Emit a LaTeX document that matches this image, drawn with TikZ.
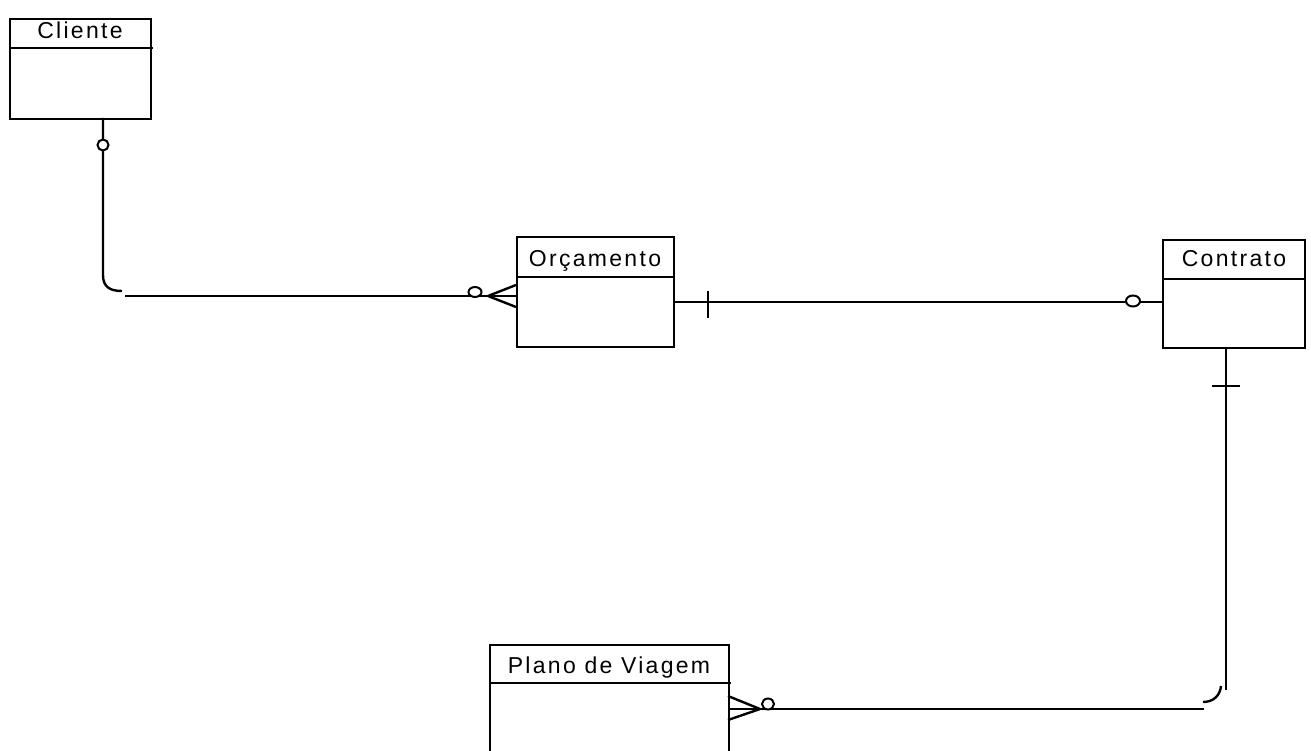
\documentclass[tikz,border=0pt]{standalone}
\usepackage{fontspec}
\usetikzlibrary{shapes.geometric}
\setmainfont{Liberation Sans}[LetterSpace=10]
\begin{document}
\begin{tikzpicture}[x=1pt,y=-1pt,line width=2.4pt,
  entity/.style={draw,rectangle,anchor=north west,inner sep=0pt},
  lbl/.style={font=\fontsize{23}{26}\selectfont,inner sep=0pt,anchor=base},
  ring/.style={draw,fill=white,line width=2pt,inner sep=0pt}]
\useasboundingbox (0,0) rectangle (1311,751);
% entities
\node[entity,minimum width=141,minimum height=100] (cli) at (9,18) {};
\draw (9,48) -- (153,48);
\node[lbl] (clit) at (80,39) {Cliente};
\node[entity,minimum width=157,minimum height=110] (orc) at (516,236) {};
\draw (516,277) -- (675,277);
\node[lbl] (orct) at (595,267) {Orçamento};
\node[entity,minimum width=142,minimum height=108] (con) at (1162,239) {};
\draw (1162,279) -- (1306,279);
\node[lbl] (cont) at (1234,267) {Contrato};
\node[entity,minimum width=239,minimum height=130] (pla) at (489,644) {};
\draw (489,683) -- (731,683);
\node[lbl] (plat) at (609,673) {Plano de Viagem};
% Cliente -- Orcamento
\coordinate (a1) at (103,118);
\coordinate (a2) at (103,275);
\coordinate (a3) at (122,291);
\coordinate (a4) at (125,296);
\coordinate (a5) at (488,296);
\draw (a1) -- (a2) .. controls (103,287) and (110,291) .. (a3);
\draw (a4) -- (516,296);
\node[ring,ellipse,minimum width=11pt,minimum height=11pt] (r1) at (103,145) {};
\node[ring,ellipse,minimum width=13pt,minimum height=10pt] (r2) at (475,292) {};
\draw (a5) -- (516,285) (a5) -- (516,307);
% Orcamento -- Contrato
\coordinate (b1) at (673,302);
\coordinate (b2) at (1162,302);
\draw (b1) -- (b2);
\draw (708,291) -- (708,318);
\node[ring,ellipse,minimum width=14pt,minimum height=11pt] (r3) at (1133,301) {};
% Contrato -- Plano
\coordinate (c1) at (1226,347);
\coordinate (c2) at (1226,690);
\coordinate (c3) at (1221,686);
\coordinate (c4) at (1203,702);
\coordinate (c5) at (1204,709);
\coordinate (c6) at (728,709);
\coordinate (c7) at (760,709);
\draw (c1) -- (c2);
\draw (1212,386) -- (1240,386);
\draw (c3) .. controls (1220,696) and (1213,702) .. (c4);
\draw (c5) -- (c6);
\draw (c7) -- (728,696) (c7) -- (728,720);
\node[ring,ellipse,minimum width=12pt,minimum height=11pt] (r4) at (768,704) {};
\end{tikzpicture}
\end{document}
